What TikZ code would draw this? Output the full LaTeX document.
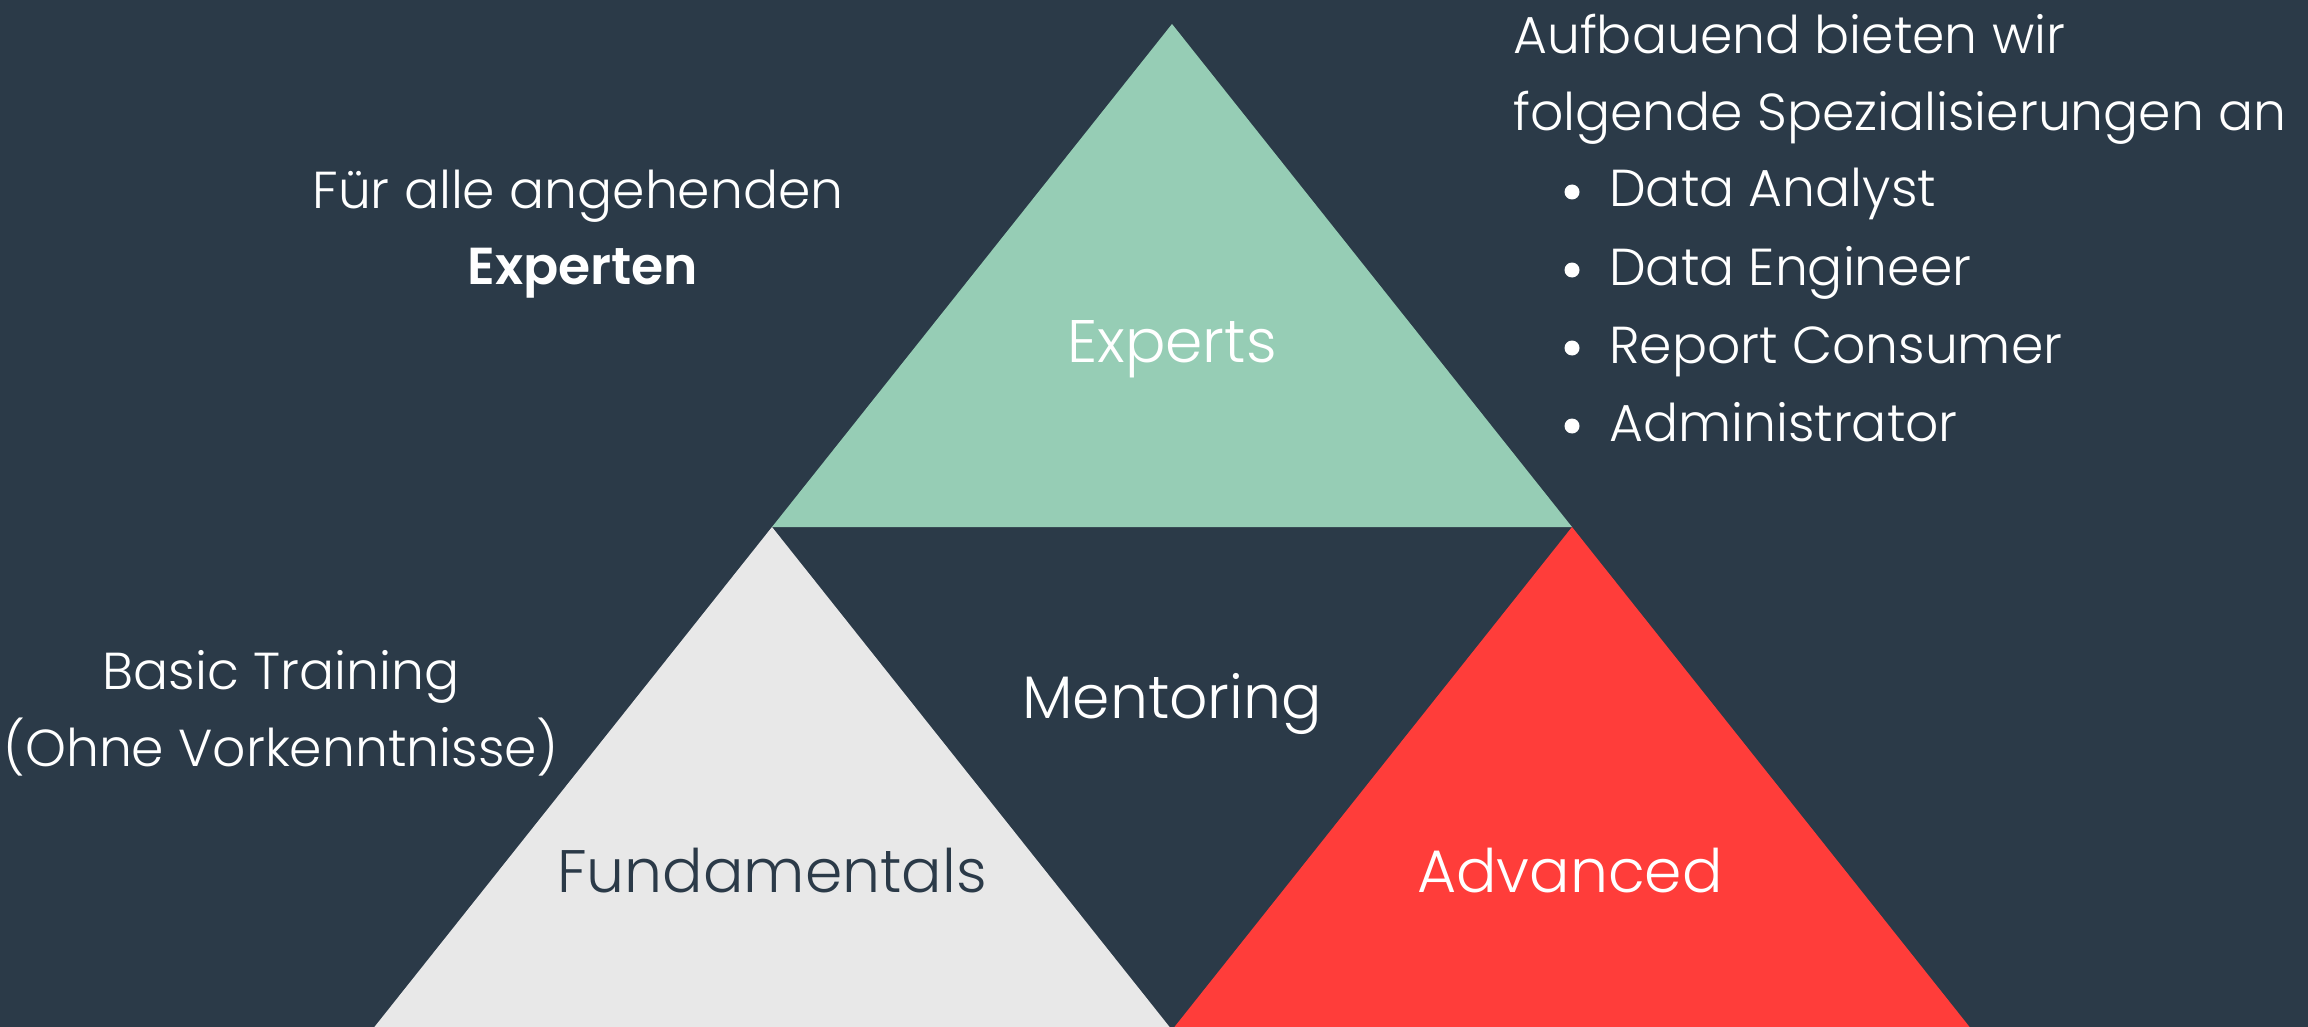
\documentclass[tikz,border=0pt]{standalone}
\usepackage{fontspec}
\setmainfont{Poppins}[UprightFont=* Light, BoldFont=* SemiBold]
\definecolor{bgc}{HTML}{2B3A48}
\definecolor{greenc}{HTML}{96CDB5}
\definecolor{grayc}{HTML}{E8E8E8}
\definecolor{redc}{HTML}{FF3D3A}
\begin{document}
\begin{tikzpicture}[x=1pt,y=-1pt,
  txt/.style={text=white, inner sep=0pt, anchor=base, font=\fontsize{52}{60}\selectfont},
  txtl/.style={txt, anchor=base west},
  lbl/.style={inner sep=0pt, anchor=base, font=\fontsize{60}{70}\selectfont}]
\useasboundingbox (0,0) rectangle (2308,1027);
\clip (0,0) rectangle (2308,1027);
\fill[bgc] (0,0) rectangle (2308,1027);
\fill[greenc] (1172,24) -- (1572,527) -- (772,527) -- cycle;
\fill[grayc] (772,527) -- (1172,1030) -- (372,1030) -- cycle;
\fill[redc] (1572,527) -- (1972,1030) -- (1172,1030) -- cycle;
\node[lbl, text=white] (experts) at (1172,362) {Experts};
\node[lbl, text=white] (mentoring) at (1172,718) {Mentoring};
\node[lbl, text=bgc] (fund) at (772,892) {Fundamentals};
\node[lbl, text=white] (adv) at (1570,892) {Advanced};
\node[txt] (fuer) at (578,209) {Für alle angehenden};
\node[txt, font=\fontsize{52}{60}\selectfont\bfseries] (experten) at (583,284) {Experten};
\node[txt] (basic) at (281,689) {Basic Training};
\node[txt] (ohne) at (281,766) {(Ohne Vorkenntnisse)};
\node[txtl] (auf) at (1513,54) {Aufbauend bieten wir};
\node[txtl] (folg) at (1513,131) {folgende Spezialisierungen an};
\node[txtl] (i1) at (1609,207) {Data Analyst};
\node[txtl] (i2) at (1609,285) {Data Engineer};
\node[txtl] (i3) at (1609,363) {Report Consumer};
\node[txtl] (i4) at (1609,441) {Administrator};
\foreach \n in {i1,i2,i3,i4}{\fill[white] ([xshift=-37pt,yshift=15pt]\n.base west) circle (7.5pt);}
\end{tikzpicture}
\end{document}
